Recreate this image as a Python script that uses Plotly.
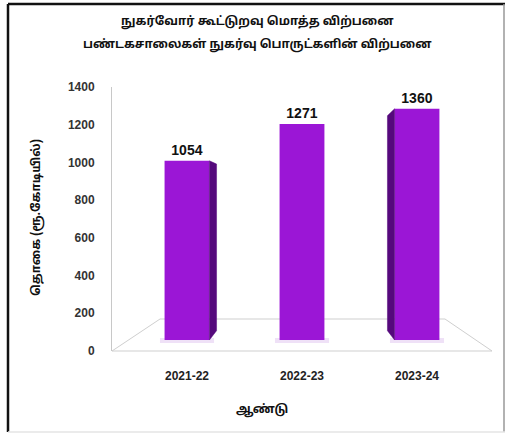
import plotly.graph_objects as go

# ---- data ----
categories = ["2021-22", "2022-23", "2023-24"]
values = [1054, 1271, 1360]
ytick_vals = [0, 200, 400, 600, 800, 1000, 1200, 1400]
title_lines = ["நுகர்வோர் கூட்டுறவு மொத்த விற்பனை",
               "பண்டகசாலைகள் நுகர்வு பொருட்களின் விற்பனை"]
y_title = "தொகை (ரூ.கோடியில்)"
x_title = "ஆண்டு"

W, H = 506, 437
ML, MR, MT, MB = 112, 14, 87, 86
PW, PH = W - ML - MR, H - MT - MB

xs = list(range(len(categories)))
bar_w = 0.39
side_d = 0.062
front_col = "#9b16d6"
side_col = "#55097c"

fig = go.Figure()

# invisible trace so the back-wall value axis is drawn
fig.add_trace(go.Scatter(x=xs, y=[None] * len(xs), yaxis="y", mode="markers",
                         hoverinfo="skip", showlegend=False))

# side faces (perspective), derived from data
center = (len(xs) - 1) / 2
for x, v in zip(xs, values):
    s = -(x - center)
    if s == 0:
        continue
    sign = 1 if s > 0 else -1
    xf = x + sign * bar_w / 2
    xb = xf + sign * side_d
    fig.add_trace(go.Scatter(
        x=[xf, xb, xb, xf, xf],
        y=[0, 55, v * 0.93 + 55, v, 0],
        yaxis="y2", mode="lines", fill="toself",
        fillcolor=side_col, line=dict(color=side_col, width=0.5),
        hoverinfo="skip", showlegend=False))

# soft shadow under the bars
fig.add_trace(go.Bar(
    x=xs, y=[30] * len(values), base=[-18] * len(values),
    width=bar_w + 0.08, yaxis="y2",
    marker=dict(color="rgba(180,120,220,0.22)", line=dict(width=0)),
    hoverinfo="skip", showlegend=False))

# front faces
fig.add_trace(go.Bar(
    x=xs, y=values, width=bar_w, yaxis="y2",
    marker=dict(color=front_col, line=dict(width=0)),
    text=[str(v) for v in values], textposition="outside",
    textfont=dict(family="Liberation Sans", size=14, color="#111111", weight="bold"),
    cliponaxis=False, showlegend=False))

# floor
def px(x):
    return (x - ML) / PW

def py(y):
    return (MT + PH - y) / PH

floor_path = (f"M {px(112)} {py(351)} L {px(160)} {py(319)} "
              f"L {px(445)} {py(319)} L {px(492)} {py(351)} Z")
shapes = [
    dict(type="path", xref="paper", yref="paper", path=floor_path,
         line=dict(color="#cfcfcf", width=1), fillcolor="rgba(0,0,0,0)", layer="below"),
    # frame
    dict(type="line", xref="paper", yref="paper", x0=px(8), x1=px(8), y0=py(432), y1=py(4),
         line=dict(color="#111111", width=2.5)),
    dict(type="line", xref="paper", yref="paper", x0=px(8), x1=px(505), y0=py(4), y1=py(4),
         line=dict(color="#111111", width=2.5)),
    dict(type="line", xref="paper", yref="paper", x0=px(504), x1=px(504), y0=py(4), y1=py(432),
         line=dict(color="#999999", width=1.5)),
    dict(type="line", xref="paper", yref="paper", x0=px(8), x1=px(505), y0=py(432), y1=py(432),
         line=dict(color="#e4e4e4", width=1.5)),
]

tamil_font = "Noto Sans Tamil, Lohit Tamil, Noto Sans, sans-serif"
ann_common = dict(xref="paper", yref="paper", showarrow=False,
                  xanchor="center", yanchor="middle")
annotations = [
    dict(text=title_lines[0], x=px(257), y=py(22), **ann_common,
         font=dict(family=tamil_font, size=12, color="#111111", weight="bold")),
    dict(text=title_lines[1], x=px(257), y=py(45), **ann_common,
         font=dict(family=tamil_font, size=12, color="#111111", weight="bold")),
    dict(text=y_title, x=px(37), y=py(218), textangle=-90, **ann_common,
         font=dict(family=tamil_font, size=12, color="#111111", weight="bold")),
    dict(text=x_title, x=px(262), y=py(410), **ann_common,
         font=dict(family=tamil_font, size=12, color="#111111", weight="bold")),
]

# y2 scale: zero at pixel 340, 0.17 px per unit
z_px = 340
k = 0.17
y2_lo = -(MT + PH - z_px) / k
y2_hi = (z_px - MT) / k

fig.update_layout(
    width=W, height=H,
    margin=dict(l=ML, r=MR, t=MT, b=MB, pad=0),
    paper_bgcolor="white", plot_bgcolor="white",
    barmode="overlay",
    xaxis=dict(range=[-(187 - ML) / 115, 2 + (492 - 417) / 115],
               tickvals=xs, ticktext=categories, showgrid=False, zeroline=False,
               showline=False, ticks="", ticklabelstandoff=16,
               tickfont=dict(family="Liberation Sans", size=12, color="#222222", weight="bold")),
    yaxis=dict(range=[0, 1400], tickvals=ytick_vals, showgrid=False, zeroline=False,
               showline=True, linecolor="#c8c8c8", linewidth=1, ticks="",
               ticklabelstandoff=14,
               tickfont=dict(family="Liberation Sans", size=12, color="#333333", weight="bold")),
    yaxis2=dict(range=[y2_lo, y2_hi], overlaying="y", visible=False, showgrid=False,
                zeroline=False),
    shapes=shapes, annotations=annotations,
)

fig.write_html("out.html", config={"displayModeBar": False},
               post_script="document.body.style.margin='0';document.body.style.padding='0';")
